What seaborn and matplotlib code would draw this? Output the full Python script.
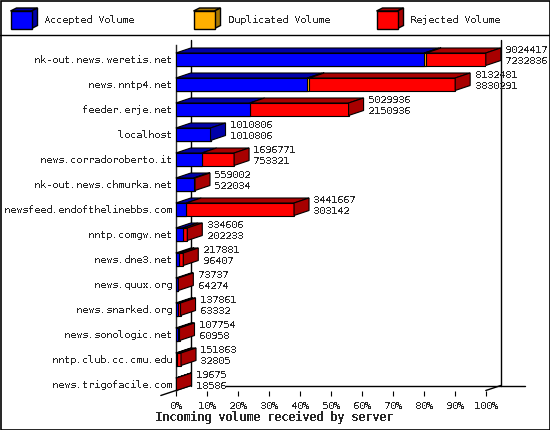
import numpy as np
import pandas as pd
import matplotlib
matplotlib.use("Agg")
import matplotlib.pyplot as plt
from matplotlib.patches import Polygon, Rectangle
import seaborn as sns

hosts = ["nk-out.news.weretis.net", "news.nntp4.net", "feeder.erje.net", "localhost",
         "news.corradoroberto.it", "nk-out.news.chmurka.net", "newsfeed.endofthelinebbs.com",
         "nntp.comgw.net", "news.dne3.net", "news.quux.org", "news.snarked.org",
         "news.sonologic.net", "nntp.club.cc.cmu.edu", "news.trigofacile.com"]
total = [9024417, 8132481, 5029936, 1010806, 1696771, 559002, 3441667,
         334606, 217881, 73737, 137861, 107754, 151863, 19675]
accepted = [7232836, 3830291, 2150936, 1010806, 753321, 522034, 303142,
            202233, 96407, 64274, 63332, 60958, 32805, 18586]
duplicated = [55000, 55000, 0, 0, 0, 0, 0, 0, 0, 0, 0, 0, 0, 0]
ticks = list(range(0, 101, 10))
tick_labels = [f"{t}%" for t in ticks]
legend_names = ["Accepted Volume", "Duplicated Volume", "Rejected Volume"]

BLUE, BLUE_D = "#0000ff", "#0000a8"
ORANGE, ORANGE_D = "#ffb000", "#a87800"
RED, RED_D = "#ff0000", "#a80000"
FS = 7.2

sns.set_style("white")
plt.rcParams["font.family"] = ["DejaVu Sans Mono"]
plt.rcParams["text.antialiased"] = False
plt.rcParams["text.hinting"] = "native"
plt.rcParams["text.hinting_factor"] = 1

df = pd.DataFrame({"host": hosts, "total": total, "accepted": accepted, "dup": duplicated})
top = df["total"].max()
df["acc_pct"] = df["accepted"] / top * 100
df["dup_pct"] = (df["accepted"] + df["dup"]) / top * 100
df["tot_pct"] = df["total"] / top * 100

fig = plt.figure(figsize=(5.5, 4.3), dpi=100)

# background layer in pixel units: frame and legend
bg = fig.add_axes([0, 0, 1, 1], zorder=0)
bg.set_xlim(0, 550)
bg.set_ylim(430, 0)
bg.axis("off")
bg.add_patch(Rectangle((0.5, 0.5), 549, 429, fill=False, ec="black", lw=1.2))
bg.plot([0, 550], [35, 35], color="black", lw=1)
for x0, name, c, cd in zip([10.5, 193.5, 376.5], legend_names,
                           [BLUE, ORANGE, RED], [BLUE_D, ORANGE_D, RED_D]):
    bg.add_patch(Polygon([(x0, 11), (x0 + 6, 8), (x0 + 27, 8), (x0 + 21, 11)], fc=cd, ec="black", lw=1))
    bg.add_patch(Polygon([(x0 + 21, 11), (x0 + 27, 8), (x0 + 27, 25.5), (x0 + 21, 28.5)], fc=cd, ec="black", lw=1))
    bg.add_patch(Rectangle((x0, 11), 21, 17.5, fc=c, ec="black", lw=1))
    bg.text(x0 + 34, 20, name, fontsize=FS, va="center", ha="left")

ax = fig.add_axes([175.8 / 550, 1 - 390.5 / 430, 310 / 550, 345.5 / 430], zorder=1)
ax.patch.set_alpha(0)

# widest first, so the narrower ones stay on top
for col, c in [("tot_pct", RED), ("dup_pct", ORANGE), ("acc_pct", BLUE)]:
    sns.barplot(data=df, x=col, y="host", orient="h", color=c, saturation=1, width=0.5,
                edgecolor="black", linewidth=0.8, ax=ax, zorder=3)

ymax, ymin = 13.25, -0.57
ax.set_xlim(0, 100)
ax.set_ylim(ymax, ymin)
dx = 15 / 3.1
dy = 5 / 25

# back wall and floor
line = dict(color="black", lw=1, clip_on=False, zorder=1)
ax.plot([dx, dx], [ymax - dy, ymin - dy], **line)
ax.plot([100 + dx, 100 + dx], [ymax - dy, ymin - dy], **line)
ax.plot([100, 100 + dx], [ymax, ymax - dy], **line)
ax.plot([-dx, dx], [ymax + dy, ymax - dy], **line)
ax.plot([16, 112.8], [ymax - dy, ymax - dy], **line)

# top and side faces of each bar
for i, r in df.iterrows():
    yt = i - 0.25
    yb = i + 0.25
    edges = [0, r["acc_pct"], r["dup_pct"], r["tot_pct"]]
    for a, b, cd in zip(edges[:-1], edges[1:], [BLUE_D, ORANGE_D, RED_D]):
        if b > a:
            ax.add_patch(Polygon([(a, yt), (a + dx, yt - dy), (b + dx, yt - dy), (b, yt)],
                                 fc=cd, ec="black", lw=0.8, clip_on=False, zorder=4))
    end = r["tot_pct"]
    side = RED_D if end > r["dup_pct"] else BLUE_D
    ax.add_patch(Polygon([(end, yt), (end + dx, yt - dy), (end + dx, yb - dy), (end, yb)],
                         fc=side, ec="black", lw=0.8, clip_on=False, zorder=4))
    ax.text(end + dx + 1.4, i - 0.37, f"{r['total']:d}", fontsize=FS, va="center", ha="left", zorder=5)
    ax.text(end + dx + 1.4, i + 0.07, f"{r['accepted']:d}", fontsize=FS, va="center", ha="left", zorder=5)

sns.despine(ax=ax, left=False, bottom=True, top=True, right=True)
ax.spines["left"].set_linewidth(1)
ax.set_xlabel("")
ax.set_ylabel("")
ax.set_xticks(ticks, tick_labels)
ax.tick_params(axis="x", bottom=True, length=3.6, width=0.8, pad=4, labelsize=FS, color="black")
ax.tick_params(axis="y", left=False, length=0, pad=3, labelsize=FS)

fig.text(274 / 550, 1 - 417 / 430, "Incoming volume received by server", fontsize=8.4,
         fontweight="bold", ha="center", va="center")

fig.savefig("out.png", dpi=100)
